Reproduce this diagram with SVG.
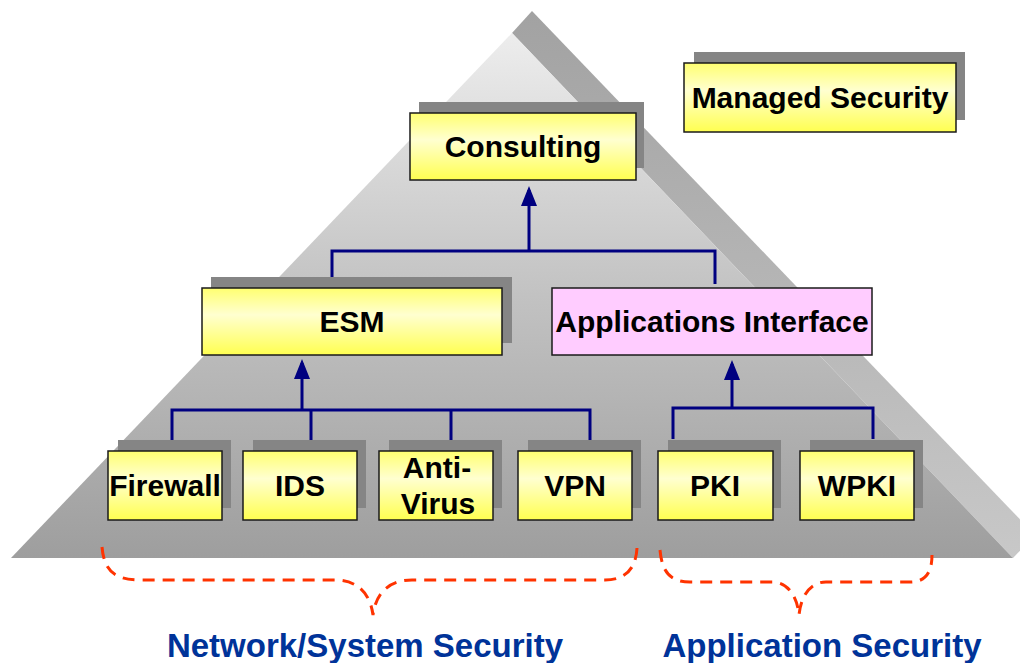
<svg xmlns="http://www.w3.org/2000/svg" width="1020" height="663" viewBox="0 0 1020 663">
  <defs>
    <linearGradient id="front" gradientUnits="userSpaceOnUse" x1="0" y1="33" x2="0" y2="558">
      <stop offset="0" stop-color="#ededed"/>
      <stop offset="0.5" stop-color="#c2c2c2"/>
      <stop offset="1" stop-color="#9e9e9e"/>
    </linearGradient>
    <linearGradient id="side" gradientUnits="userSpaceOnUse" x1="0" y1="11" x2="0" y2="558">
      <stop offset="0" stop-color="#a2a2a2"/>
      <stop offset="1" stop-color="#c8c8c8"/>
    </linearGradient>
    <linearGradient id="yellow" x1="0" y1="0" x2="0" y2="1">
      <stop offset="0" stop-color="#ffff70"/>
      <stop offset="0.4" stop-color="#ffffd0"/>
      <stop offset="1" stop-color="#ffff50"/>
    </linearGradient>
    <marker id="arr" viewBox="0 0 20 16" refX="16" refY="8" markerWidth="20" markerHeight="16" markerUnits="userSpaceOnUse" orient="auto">
      <path d="M0,0 L20,8 L0,16 Z" fill="#000080"/>
    </marker>
  </defs>
  <style>
    .shadow { fill: #858585; }
    .box { fill: url(#yellow); stroke: #1a1a1a; stroke-width: 1.5; }
    .pink { fill: #ffccff; stroke: #1a1a1a; stroke-width: 1.5; }
    .lbl { font-family: "Liberation Sans", Arial, sans-serif; font-weight: bold; font-size: 30px; fill: #000; text-anchor: middle; }
    .cat { font-family: "Liberation Sans", Arial, sans-serif; font-weight: bold; font-size: 33px; fill: #003399; text-anchor: middle; }
    .conn { fill: none; stroke: #000080; stroke-width: 3; }
    .brace { fill: none; stroke: #ff3300; stroke-width: 3; stroke-dasharray: 12 8; }
  </style>
  <rect width="1020" height="663" fill="#ffffff"/>

  <g id="pyramid">
    <polygon points="512,33 532,11 1035,535 1013,558" fill="url(#side)"/>
    <polygon points="512,33 11,558 1013,558" fill="url(#front)"/>
  </g>

  <g id="connectors">
    <path class="conn" d="M332,284 V251 H715 V284"/>
    <path class="conn" d="M529,251 V190" marker-end="url(#arr)"/>
    <path class="conn" d="M172,440 V410 H590 V440 M311,410 V440 M451,410 V440"/>
    <path class="conn" d="M302,410 V363" marker-end="url(#arr)"/>
    <path class="conn" d="M673,439 V408 H873 V439"/>
    <path class="conn" d="M732,408 V364" marker-end="url(#arr)"/>
  </g>

  <g id="node-managed-security">
    <rect class="shadow" x="694" y="52" width="271" height="68"/>
    <rect class="box" x="684" y="63" width="272" height="69"/>
    <text class="lbl" x="820" y="108">Managed Security</text>
  </g>
  <g id="node-consulting">
    <rect class="shadow" x="419" y="102" width="225" height="66"/>
    <rect class="box" x="410" y="113" width="226" height="67"/>
    <text class="lbl" x="523" y="157">Consulting</text>
  </g>
  <g id="node-esm">
    <rect class="shadow" x="211" y="277" width="301" height="66"/>
    <rect class="box" x="202" y="288" width="300" height="67"/>
    <text class="lbl" x="352" y="332">ESM</text>
  </g>
  <g id="node-applications-interface">
    <rect class="pink" x="552" y="288" width="320" height="67"/>
    <text class="lbl" x="712" y="332">Applications Interface</text>
  </g>
  <g id="node-firewall">
    <rect class="shadow" x="118" y="440" width="113" height="68"/>
    <rect class="box" x="108" y="451" width="114" height="69"/>
    <text class="lbl" x="165" y="496">Firewall</text>
  </g>
  <g id="node-ids">
    <rect class="shadow" x="253" y="440" width="113" height="68"/>
    <rect class="box" x="243" y="451" width="114" height="69"/>
    <text class="lbl" x="300" y="496">IDS</text>
  </g>
  <g id="node-antivirus">
    <rect class="shadow" x="389" y="440" width="113" height="68"/>
    <rect class="box" x="379" y="451" width="114" height="69"/>
    <text class="lbl" x="437" y="478">Anti-</text>
    <text class="lbl" x="438" y="514">Virus</text>
  </g>
  <g id="node-vpn">
    <rect class="shadow" x="528" y="440" width="113" height="68"/>
    <rect class="box" x="518" y="451" width="114" height="69"/>
    <text class="lbl" x="575" y="496">VPN</text>
  </g>
  <g id="node-pki">
    <rect class="shadow" x="668" y="440" width="113" height="68"/>
    <rect class="box" x="658" y="451" width="115" height="69"/>
    <text class="lbl" x="715" y="496">PKI</text>
  </g>
  <g id="node-wpki">
    <rect class="shadow" x="810" y="440" width="113" height="68"/>
    <rect class="box" x="800" y="451" width="114" height="69"/>
    <text class="lbl" x="857" y="496">WPKI</text>
  </g>

  <g id="braces">
    <path class="brace" d="M102,547 C104,570 114,580 140,580 L335,580 C356,580 370,592 373,615 C376,592 390,580 412,580 L605,580 C626,580 636,568 637,548"/>
    <path class="brace" d="M660,550 C662,572 670,582 690,582 L772,582 C788,582 797,596 799,615 C801,596 810,582 826,582 L910,582 C926,582 932,572 932,555"/>
  </g>

  <g id="labels">
    <text class="cat" x="365" y="657">Network/System Security</text>
    <text class="cat" x="822" y="657">Application Security</text>
  </g>
</svg>
